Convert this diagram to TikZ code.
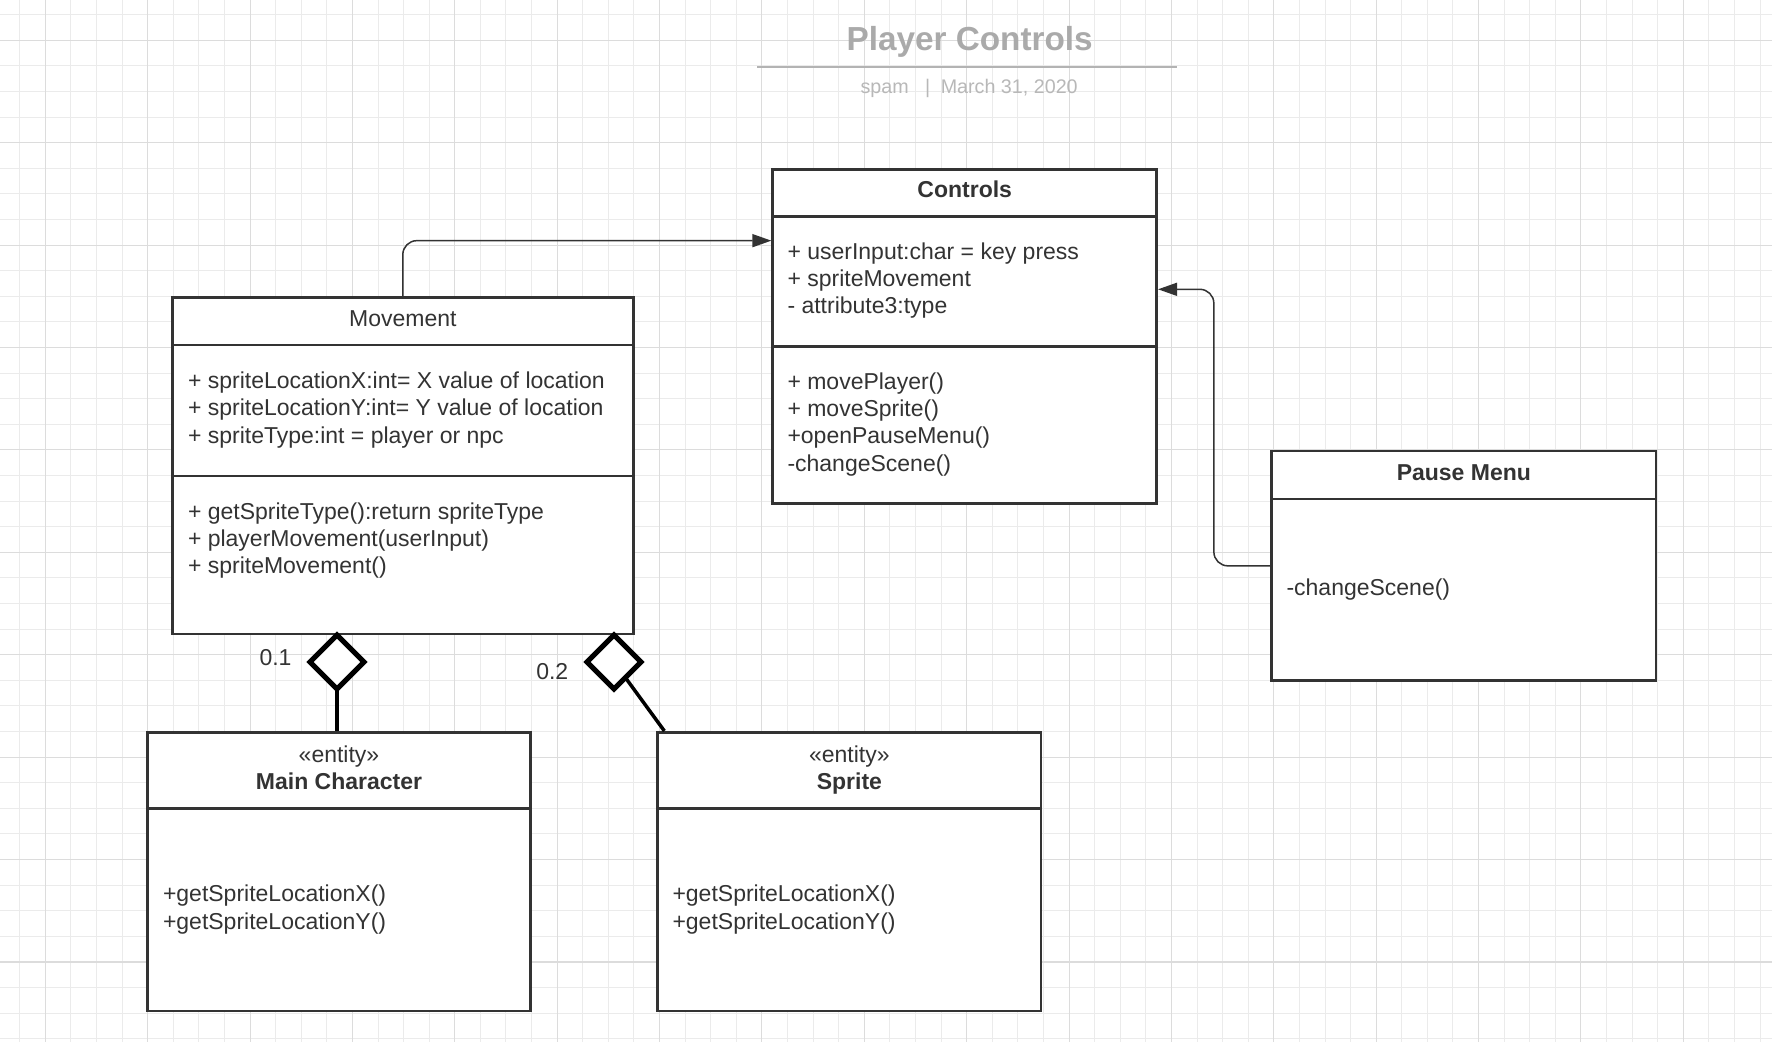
\documentclass[tikz,border=0pt]{standalone}
\usepackage{fontspec}
\setmainfont{Liberation Sans}
\usetikzlibrary{arrows.meta,shapes.geometric}
\definecolor{ink}{HTML}{333333}
\definecolor{gridminor}{HTML}{EBEBEB}
\definecolor{gridmajor}{HTML}{DCDCDC}
\definecolor{titlegray}{HTML}{AAAAAA}
\definecolor{subgray}{HTML}{B8B8B8}
\definecolor{rulegray}{HTML}{B3B3B3}
\newcommand\bodyfont{\fontsize{23}{27.3}\selectfont}
\begin{document}
\begin{tikzpicture}[x=1pt,y=-1pt,
  txt/.style={inner sep=0,outer sep=0,text=ink,font=\bodyfont},
  hdr/.style={inner sep=0,outer sep=0,text=ink,font=\bodyfont\bfseries,anchor=base},
  umlbox/.style={rectangle,draw=ink,line width=2.7pt,fill=white,inner sep=0},
  divider/.style={draw=ink,line width=2.7pt},
  conn/.style={draw=ink,line width=1.5pt,rounded corners=14pt,-{Triangle[length=19pt,width=13pt]}},
  aggd/.style={diamond,draw=black,fill=white,line width=5pt,minimum width=54pt,minimum height=54pt,inner sep=0,outer sep=0},
  agg/.style={draw=black,line width=3.5pt},
  gmin/.style={draw=gridminor,line width=1pt},
  gmaj/.style={draw=gridmajor,line width=1.1pt}]
\useasboundingbox (0,0) rectangle (1772,1042);
\fill[white] (0,0) rectangle (1772,1042);
% grid
\foreach \k in {0,...,68} \draw[gmin] ({19.7+25.594*\k},0) -- ({19.7+25.594*\k},1042);
\foreach \k in {0,...,40} \draw[gmin] (0,{14.7+25.6*\k}) -- (1772,{14.7+25.6*\k});
\foreach \k in {0,...,16} \draw[gmaj] ({45.3+102.375*\k},0) -- ({45.3+102.375*\k},1042);
\foreach \k in {0,...,9} \draw[gmaj] (0,{40.3+102.41*\k}) -- (1772,{40.3+102.41*\k});

% title
\node[inner sep=0,text=titlegray,font=\fontsize{33.3}{40}\selectfont\bfseries,anchor=base] (title) at (969.7,50.5) {Player Controls};
\draw[rulegray,line width=2.2pt] (757,66.7) -- (1176.7,66.7);
\node[inner sep=0,text=subgray,font=\fontsize{19.7}{23}\selectfont,anchor=base west] (sub) at (860.3,93.3) {spam\hspace{16.5pt}|\hspace{10.5pt}March 31, 2020};

% boxes
\node[umlbox,minimum width=384pt,minimum height=334pt] (ctl) at (964.7,336.3) {};
\draw[divider] (772.7,216.7) -- (1156.7,216.7);
\draw[divider] (772.7,346.7) -- (1156.7,346.7);

\node[umlbox,minimum width=461pt,minimum height=336.7pt] (mov) at (402.8,465.65) {};
\draw[divider] (172.3,345) -- (633.3,345);
\draw[divider] (172.3,476) -- (633.3,476);

\node[umlbox,minimum width=384.3pt,minimum height=229.7pt] (pm) at (1463.85,565.85) {};
\draw[divider] (1271.7,499) -- (1656,499);

\node[umlbox,minimum width=383.4pt,minimum height=278.7pt] (mc) at (339,871.65) {};
\draw[divider] (147.3,808.3) -- (530.7,808.3);

\node[umlbox,minimum width=383.3pt,minimum height=278.7pt] (sp) at (849.35,871.65) {};
\draw[divider] (657.7,808.3) -- (1041,808.3);

% Controls text
\node[hdr] (ctlT) at (964.7,197.7) {Controls};
\foreach \t [count=\i] in {{+ userInput:char = key press},{+ spriteMovement},{- attribute3:type}}
  \node[txt,anchor=base west] (ctlA\i) at (787.5,{259.3+27.3*(\i-1)}) {\t};
\foreach \t [count=\i] in {{+ movePlayer()},{+ moveSprite()},{+openPauseMenu()},{-changeScene()}}
  \node[txt,anchor=base west] (ctlM\i) at (787.5,{389.3+27.3*(\i-1)}) {\t};

% Movement text
\node[txt,anchor=base] (movT) at (402.8,326) {Movement};
\foreach \t [count=\i] in {{+ spriteLocationX:int= X value of location},{+ spriteLocationY:int= Y value of location},{+ spriteType:int = player or npc}}
  \node[txt,anchor=base west] (movA\i) at (188,{388.5+27.3*(\i-1)}) {\t};
\foreach \t [count=\i] in {{+ getSpriteType():return spriteType},{+ playerMovement(userInput)},{+ spriteMovement()}}
  \node[txt,anchor=base west] (movM\i) at (188,{519.3+27.3*(\i-1)}) {\t};

% Pause Menu text
\node[hdr] (pmT) at (1463.85,480) {Pause Menu};
\node[txt,anchor=base west] (pmM1) at (1286.5,595) {-changeScene()};

% Main Character text
\node[txt,anchor=base] (mcS) at (339,762.3) {«entity»};
\node[hdr] (mcT) at (339,789) {Main Character};
\node[txt,anchor=base west] (mcM1) at (163,901.7) {+getSpriteLocationX()};
\node[txt,anchor=base west] (mcM2) at (163,929) {+getSpriteLocationY()};

% Sprite text
\node[txt,anchor=base] (spS) at (849.35,762.3) {«entity»};
\node[hdr] (spT) at (849.35,789) {Sprite};
\node[txt,anchor=base west] (spM1) at (672.5,901.7) {+getSpriteLocationX()};
\node[txt,anchor=base west] (spM2) at (672.5,929) {+getSpriteLocationY()};

% connectors
\draw[conn] (mov.north) |- ([yshift=-72.7pt]ctl.north west);
\draw[conn] (pm.west) -- ++(-56.5,0) |- ([yshift=-121.35pt]ctl.north east);

% aggregations
\node[aggd] (d1) at (337,662) {};
\node[aggd] (d2) at (614,662) {};
\draw[agg] (d1.south) -- (d1.south |- mc.north);
\draw[agg] (d2) -- ([xshift=8pt]sp.north west);
\node[txt,anchor=base west] (l1) at (259.5,665) {0.1};
\node[txt,anchor=base west] (l2) at (536.3,679) {0.2};
\end{tikzpicture}
\end{document}
